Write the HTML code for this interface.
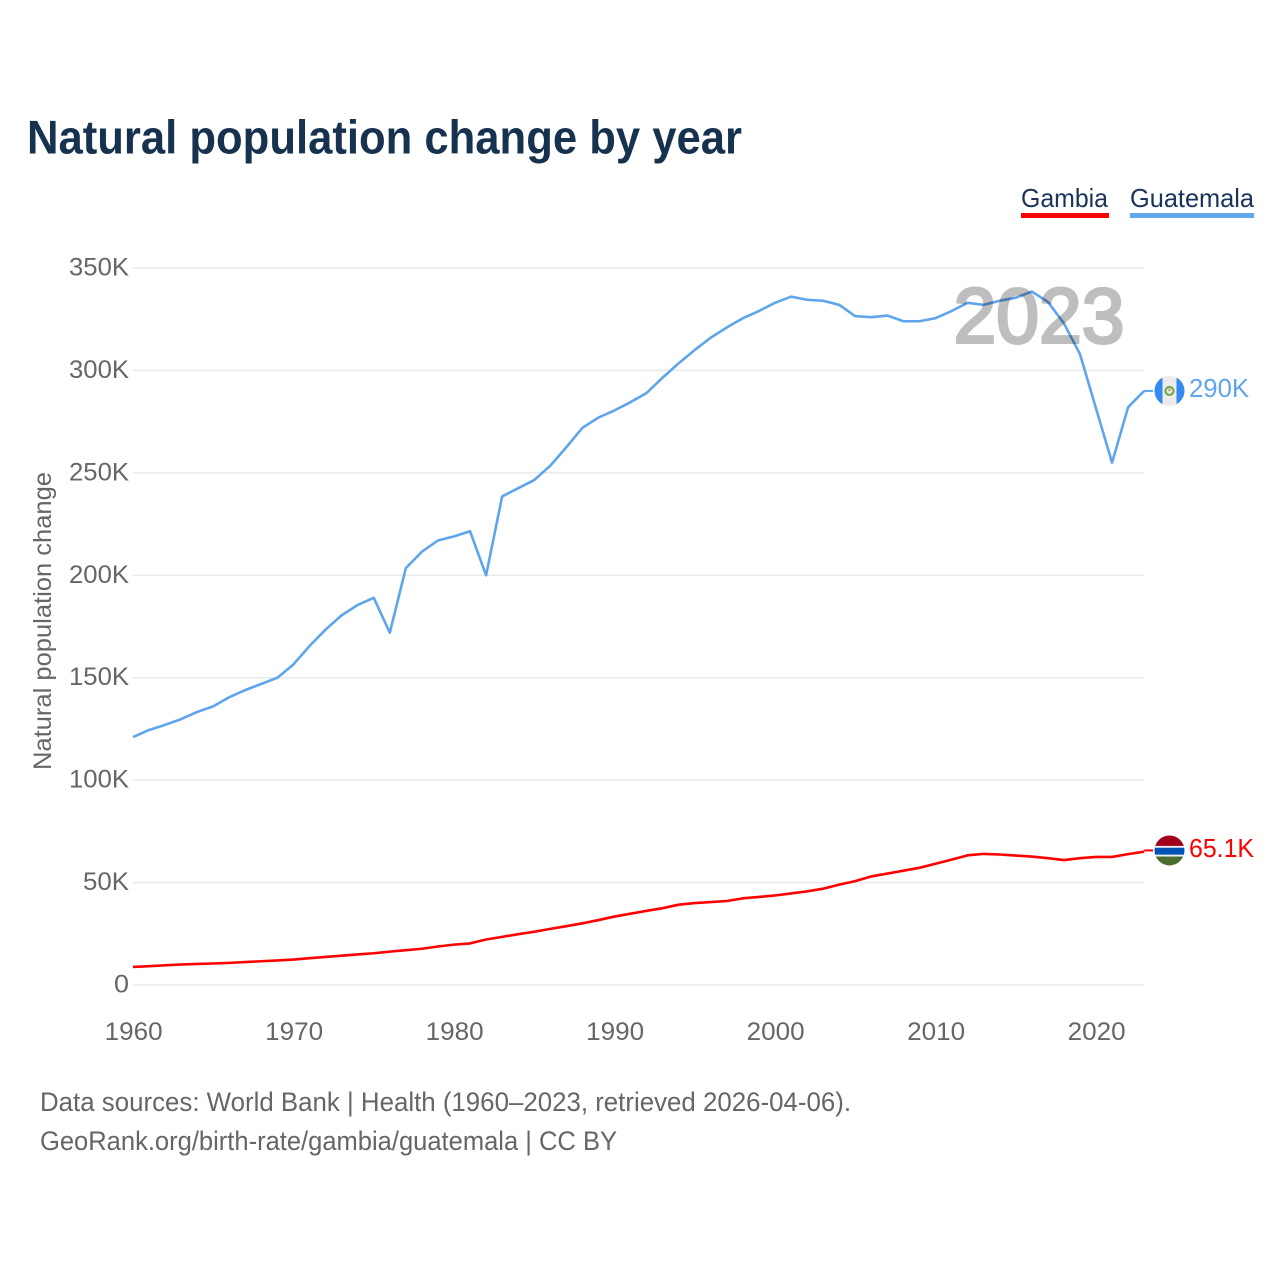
<!DOCTYPE html>
<html lang="en">
<head>
<meta charset="utf-8">
<title>Natural population change by year</title>
<style>
html,body{margin:0;padding:0;background:#fff;}
svg{display:block;}
text{font-family:"Liberation Sans",sans-serif;}
</style>
</head>
<body>
<svg id="chart" xmlns="http://www.w3.org/2000/svg" width="1280" height="1280" viewBox="0 0 1280 1280">
  <defs>
    <clipPath id="flag-clip-a"><circle cx="0" cy="0" r="15"/></clipPath>
  </defs>
  <text x="27" y="153.5" font-size="47" font-weight="700" fill="#17324f" textLength="715" lengthAdjust="spacingAndGlyphs">Natural population change by year</text>

  <g>
    <g>
      <text x="1021" y="207" font-size="26" fill="#1a3358" textLength="87" lengthAdjust="spacingAndGlyphs">Gambia</text>
      <rect x="1021" y="213" width="88" height="5" fill="#ff0000"/>
    </g>
    <g>
      <text x="1130" y="207" font-size="26" fill="#1a3358" textLength="124" lengthAdjust="spacingAndGlyphs">Guatemala</text>
      <rect x="1130" y="213" width="124" height="5" fill="#62a6ec"/>
    </g>
  </g>

  <g id="grid"></g>
  <g id="yticks"></g>
  <g id="xticks"></g>
  <text transform="translate(51,621) rotate(-90)" text-anchor="middle" font-size="25" fill="#666666" textLength="298" lengthAdjust="spacingAndGlyphs">Natural population change</text>

  <g id="series"></g>

  <text x="1124.5" y="342.5" text-anchor="end" font-size="78" font-weight="400" fill="#000000" stroke="#000000" stroke-width="3" opacity="0.25" textLength="171" lengthAdjust="spacingAndGlyphs">2023</text>

  <g id="end-labels"></g>

  <text x="40" y="1111" font-size="26.5" fill="#666666" textLength="811" lengthAdjust="spacingAndGlyphs">Data sources: World Bank | Health (1960–2023, retrieved 2026-04-06).</text>
  <text x="40" y="1150" font-size="26.5" fill="#666666" textLength="577" lengthAdjust="spacingAndGlyphs">GeoRank.org/birth-rate/gambia/guatemala | CC BY</text>
</svg>
<script>
const years = [1960,1961,1962,1963,1964,1965,1966,1967,1968,1969,1970,1971,1972,1973,1974,1975,1976,1977,1978,1979,1980,1981,1982,1983,1984,1985,1986,1987,1988,1989,1990,1991,1992,1993,1994,1995,1996,1997,1998,1999,2000,2001,2002,2003,2004,2005,2006,2007,2008,2009,2010,2011,2012,2013,2014,2015,2016,2017,2018,2019,2020,2021,2022,2023];
const guatemalaValues = [121,124.5,127,129.8,133.3,136,140.5,144,147,150,156.5,165.5,173.5,180.5,185.5,189,172,203.5,211.5,217,219,221.5,200,238.5,242.5,246.5,253.5,262.5,272,277,280.5,284.5,289,296.5,303.5,310,316,321,325.5,329,333,336,334.5,334,332,326.5,326,326.8,324,324,325.5,329,333,332,334,335.5,338.5,333.5,323,308,281.5,255,282,290];
const gambiaValues = [8.8,9.2,9.6,10,10.3,10.5,10.8,11.2,11.6,12,12.4,13.1,13.7,14.3,14.9,15.5,16.3,17,17.7,18.8,19.7,20.3,22.2,23.5,24.8,26,27.4,28.7,30.1,31.7,33.4,34.8,36.2,37.5,39.2,40,40.5,41,42.3,43,43.7,44.7,45.7,47,49,50.7,53,54.4,55.8,57.2,59.2,61.2,63.3,64,63.7,63.2,62.7,61.9,61,61.9,62.5,62.5,63.9,65.1];
const yTickValues = [0,50,100,150,200,250,300,350];
const yTickLabels = ["0","50K","100K","150K","200K","250K","300K","350K"];
const xTickValues = [1960,1970,1980,1990,2000,2010,2020];
const endLabels = ["65.1K","290K"];

const NS = "http://www.w3.org/2000/svg";
function xScale(year){ return 133 + (year - 1960) * 16.05; }
function yScale(v){ return 985 - v * (717 / 350); }
function make(tag, attrs, parent){
  const el = document.createElementNS(NS, tag);
  for (const k in attrs) el.setAttribute(k, attrs[k]);
  parent.appendChild(el);
  return el;
}
const gridG = document.getElementById('grid');
const yG = document.getElementById('yticks');
const xG = document.getElementById('xticks');
const seriesG = document.getElementById('series');
const endG = document.getElementById('end-labels');

yTickValues.forEach(function(v, i){
  const line = make('line', {x1:133, x2:xScale(2023), y1:yScale(v), y2:yScale(v), stroke:'#e9e9e9', 'stroke-width':1.5}, gridG);
  
  
  const label = yTickLabels[i];
  const t = make('text', {x:129, y:yScale(v)+7.5, 'text-anchor':'end', 'font-size':25, fill:'#666666', textLength: label.length === 1 ? 15 : label.length === 3 ? 46 : 60, lengthAdjust:'spacingAndGlyphs'}, yG);
  t.textContent = label;
  
  
});

xTickValues.forEach(function(yr){
  const t = make('text', {x:xScale(yr)+0.6, y:1040, 'text-anchor':'middle', 'font-size':25, fill:'#666666', textLength:58, lengthAdjust:'spacingAndGlyphs'}, xG);
  t.textContent = String(yr);
  
  
});

function pathFor(values){
  return values.map(function(v, i){
    return (i ? 'L' : 'M') + xScale(years[i]).toFixed(2) + ' ' + yScale(v).toFixed(2);
  }).join(' ');
}
const gambiaLine = make('path', {d:pathFor(gambiaValues), fill:'none', stroke:'#ff0000', 'stroke-width':2.6, 'stroke-linejoin':'round'}, seriesG);


const guatemalaLine = make('path', {d:pathFor(guatemalaValues), fill:'none', stroke:'#5ea5ec', 'stroke-width':2.6, 'stroke-linejoin':'round'}, seriesG);



function connector(values, color, offset, name){
  const y = yScale(values[values.length - 1]) + offset;
  const c = make('line', {x1:xScale(years[years.length - 1]), x2:1153, y1:y, y2:y, stroke:color, 'stroke-width':2}, seriesG);
  
  
}
connector(gambiaValues, '#ff0000', -1.2, 'connector-gambia');
connector(guatemalaValues, '#5ea5ec', 0, 'connector-guatemala');

function flagGroup(values, offset, name){
  const g = make('g', {transform:'translate(1169.5,' + (yScale(values[values.length - 1]) + offset).toFixed(2) + ')', 'clip-path':'url(#flag-clip-a)'}, endG);
  
  
  return g;
}
const gm = flagGroup(gambiaValues, -1.2, 'flag-gambia');
make('rect', {x:-15, y:-15, width:30, height:10.5, fill:'#a2001d'}, gm);
make('rect', {x:-15, y:-4.5, width:30, height:1.8, fill:'#f0f0f0'}, gm);
make('rect', {x:-15, y:-2.7, width:30, height:7, fill:'#0052b4'}, gm);
make('rect', {x:-15, y:4.3, width:30, height:1.8, fill:'#f0f0f0'}, gm);
make('rect', {x:-15, y:6.1, width:30, height:9, fill:'#496e2d'}, gm);

const gt = flagGroup(guatemalaValues, 0, 'flag-guatemala');
make('rect', {x:-15, y:-15, width:30, height:30, fill:'#ececec'}, gt);
make('rect', {x:-15, y:-15, width:8, height:30, fill:'#338af3'}, gt);
make('rect', {x:7, y:-15, width:8, height:30, fill:'#338af3'}, gt);
make('circle', {cx:0, cy:0, r:4, fill:'none', stroke:'#6da544', 'stroke-width':2}, gt);
make('circle', {cx:0, cy:-1, r:1.6, fill:'#c9b58a'}, gt);

function endText(values, label, color, width, offset, name){
  const t = make('text', {x:1189, y:(yScale(values[values.length - 1]) + offset).toFixed(2), 'font-size':26, fill:color, textLength:width, lengthAdjust:'spacingAndGlyphs'}, endG);
  t.textContent = label;
  
  
}
endText(gambiaValues, endLabels[0], '#ff0000', 65, 5.5, 'end-value-gambia');
endText(guatemalaValues, endLabels[1], '#5ea5ec', 60, 6, 'end-value-guatemala');
</script>
</body>
</html>
